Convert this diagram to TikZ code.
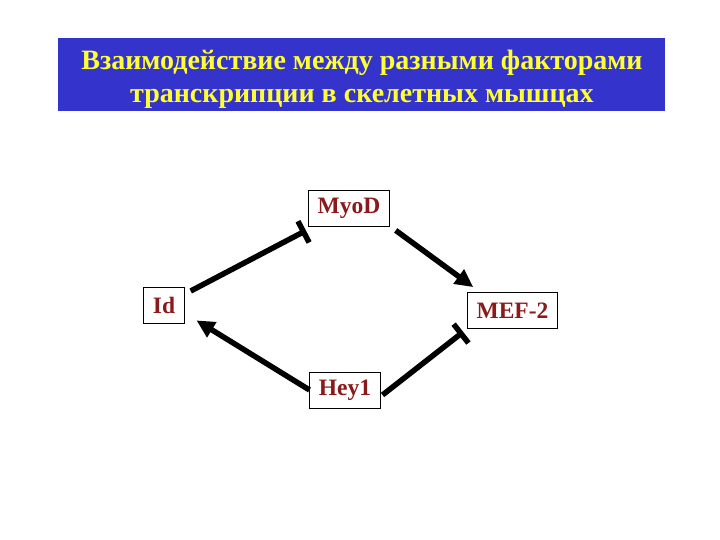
\documentclass[tikz,border=0pt]{standalone}
\usepackage{fontspec}
\setmainfont{Liberation Serif}
\usetikzlibrary{arrows.meta,calc}
\definecolor{titleblue}{HTML}{3434CC}
\definecolor{titleyellow}{HTML}{FFFF33}
\definecolor{factorred}{HTML}{8B1A1A}
\tikzset{
  factor/.style={draw=black, line width=0.8pt, fill=white, text=factorred,
    font=\fontsize{23.5}{23.5}\selectfont\bfseries, minimum height=36pt, inner xsep=9pt},
  activates/.style={line width=5.5pt, -{Triangle[length=18pt,width=17pt]}},
  inhibits/.style={line width=5.5pt, -{Bar[width=24pt]}}
}
\begin{document}
\begin{tikzpicture}[x=1pt,y=-1pt]
\useasboundingbox (0,0) rectangle (720,540);
\fill[titleblue] (58,38) rectangle (665,111);
\node[text=titleyellow, align=center, font=\fontsize{28}{33}\selectfont\bfseries] (title) at (362,79)
  {Взаимодействие между разными факторами\\транскрипции в скелетных мышцах};
\node[factor] (myod) at (349,208) {MyoD};
\node[factor] (id) at (164,305) {Id};
\node[factor] (mef2) at (512.5,310.5) {MEF-2};
\node[factor] (hey1) at (345,390) {Hey1};
\draw[inhibits, shorten <=7pt, shorten >=9pt] (id) -- (myod);
\draw[activates] ($(myod.south east)+(6,4)$) -- ($(mef2.north west)+(6,-5)$);
\draw[activates] (hey1.west) -- ($(id.south east)+(12,-3)$);
\draw[inhibits] ($(hey1.east)+(2,5)$) -- ($(mef2.south west)+(-4,3)$);
\end{tikzpicture}
\end{document}
